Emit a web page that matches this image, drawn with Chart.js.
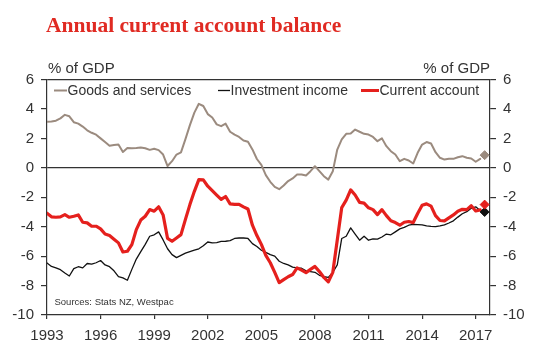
<!DOCTYPE html>
<html>
<head>
<meta charset="utf-8">
<script src="https://cdn.jsdelivr.net/npm/chart.js@4.4.1/dist/chart.umd.min.js"></script>
<style>
  body { margin: 0; background: #fff; }
  canvas { display: block; }
</style>
</head>
<body>
<canvas id="myChart" width="547" height="360"></canvas>
<script>
// quarterly, % of GDP, from 1993 Q1
const startYear = 1993;
const goods = [3.13, 3.15, 3.2, 3.36, 3.6, 3.5, 3.1, 3.0, 2.8, 2.55, 2.38, 2.25, 2.0, 1.75, 1.5, 1.55, 1.58, 1.08, 1.35, 1.33,
  1.35, 1.38, 1.33, 1.22, 1.29, 1.2, 0.9, 0.12, 0.45, 0.9, 1.05, 1.95, 2.9, 3.75, 4.35, 4.2, 3.65, 3.42, 2.95, 2.83,
  3.0, 2.45, 2.25, 2.1, 1.85, 1.77, 1.25, 0.6, 0.2, -0.5, -0.95, -1.3, -1.45, -1.2, -0.9, -0.72, -0.45, -0.45, -0.52, -0.23,
  0.11, -0.23, -0.57, -0.8, -0.23, 1.24, 1.93, 2.31, 2.33, 2.6, 2.45, 2.31, 2.26, 2.1, 1.81, 2.0, 1.47, 1.13, 0.9, 0.45,
  0.61, 0.5, 0.29, 1.02, 1.58, 1.75, 1.65, 1.06, 0.68, 0.56, 0.61, 0.61, 0.72, 0.79, 0.68, 0.63, 0.41, 0.61];
const investment = [-6.46, -6.7, -6.8, -6.92, -7.15, -7.35, -6.85, -6.72, -6.8, -6.5, -6.55, -6.45, -6.3, -6.6, -6.72, -7.0, -7.4, -7.48, -7.64, -6.9,
  -6.2, -5.7, -5.2, -4.65, -4.55, -4.35, -4.9, -5.5, -5.9, -6.1, -5.95, -5.8, -5.7, -5.6, -5.5, -5.3, -5.04, -5.1, -5.08, -5.0,
  -4.99, -4.95, -4.8, -4.77, -4.77, -4.8, -5.15, -5.35, -5.6, -5.75, -5.9, -6.0, -6.35, -6.5, -6.6, -6.75, -6.8, -6.82, -7.0, -7.05,
  -7.1, -7.3, -7.4, -7.44, -7.1, -6.6, -4.8, -4.65, -4.08, -4.5, -4.92, -4.65, -4.92, -4.83, -4.85, -4.7, -4.5, -4.55, -4.35, -4.15,
  -4.05, -3.9, -3.85, -3.86, -3.88, -3.95, -3.98, -4.0, -3.95, -3.88, -3.75, -3.6, -3.35, -3.12, -2.98, -2.75, -2.65, -2.9];
const current = [-3.08, -3.33, -3.36, -3.33, -3.18, -3.36, -3.29, -3.2, -3.7, -3.74, -3.97, -3.97, -4.15, -4.5, -4.6, -4.85, -5.1, -5.72, -5.67, -5.22,
  -4.2, -3.55, -3.29, -2.84, -2.95, -2.65, -3.2, -4.8, -4.99, -4.77, -4.54, -3.5, -2.5, -1.6, -0.8, -0.82, -1.25, -1.55, -1.85, -2.15,
  -1.95, -2.45, -2.48, -2.48, -2.65, -2.8, -3.9, -4.6, -5.2, -5.95, -6.45, -7.1, -7.8, -7.6, -7.4, -7.25, -6.8, -6.95, -7.12, -6.9,
  -6.7, -7.05, -7.45, -7.75, -7.1, -4.9, -2.7, -2.2, -1.5, -1.85, -2.35, -2.4, -2.72, -2.84, -3.18, -2.84, -3.25, -3.6, -3.72, -3.9,
  -3.7, -3.65, -3.72, -3.1, -2.55, -2.45, -2.6, -3.25, -3.58, -3.6, -3.4, -3.2, -2.95, -2.82, -2.84, -2.58, -2.93, -2.86];
// latest estimate markers (2017 Q3)
const latestX = 2017.5;
const goodsLatest = 0.86;
const investmentLatest = -3.0;
const currentLatest = -2.5;

const yearTicks = [1993, 1996, 1999, 2002, 2005, 2008, 2011, 2014, 2017];
const legendNames = ['Goods and services', 'Investment income', 'Current account'];

const grey = '#9b8b7f';
const red = '#e5201d';
const black = '#111111';
const axisColor = '#333333';
const labelFont = 'Liberation Sans, Arial, sans-serif';

function toPoints(arr) {
    return arr.map((v, i) => ({ x: startYear + i / 4, y: v }));
}

// title, unit labels, legend and source note
const textPlugin = {
    id: 'texts',
    afterDraw(chart) {
        const ctx = chart.ctx;
        const area = chart.chartArea;
        ctx.save();
        ctx.textBaseline = 'middle';

        ctx.fillStyle = '#e02a22';
        ctx.font = 'bold 21.5px "Liberation Serif", "Times New Roman", serif';
        ctx.textAlign = 'left';
        ctx.fillText('Annual current account balance', 46, 26);

        ctx.fillStyle = axisColor;
        ctx.font = '15px ' + labelFont;
        ctx.fillText('% of GDP', 48, 69);
        ctx.textAlign = 'right';
        ctx.fillText('% of GDP', area.right, 69);

        // legend inside the plot
        ctx.textAlign = 'left';
        ctx.font = '14px ' + labelFont;
        const items = [
            { name: legendNames[0], color: grey, w: 2, x1: 54, x2: 67 },
            { name: legendNames[1], color: black, w: 1.3, x1: 218, x2: 230 },
            { name: legendNames[2], color: red, w: 3, x1: 361, x2: 379 }
        ];
        items.forEach(it => {
            ctx.strokeStyle = it.color;
            ctx.lineWidth = it.w;
            ctx.beginPath();
            ctx.moveTo(it.x1, 90.5);
            ctx.lineTo(it.x2, 90.5);
            ctx.stroke();
            ctx.fillStyle = axisColor;
            ctx.fillText(it.name, it.x2 + 0.5, 91);
        });

        ctx.font = '9.5px ' + labelFont;
        ctx.fillText('Sources: Stats NZ, Westpac', 54.5, 302);
        ctx.restore();
    }
};

const yGrid = {
    color: c => (c.tick && (c.tick.value === 0 || c.tick.value === 6)) ? axisColor : 'rgba(0,0,0,0)',
    lineWidth: 1.2,
    tickColor: axisColor,
    tickLength: 6
};

let config = {
    type: 'line',
    data: {
        datasets: [
            { label: 'Current account latest', data: [{ x: latestX, y: currentLatest }], showLine: false,
              pointStyle: 'rectRot', pointRadius: 4.5, backgroundColor: red, borderColor: red, order: 0 },
            { label: 'Investment income latest', data: [{ x: latestX, y: investmentLatest }], showLine: false,
              pointStyle: 'rectRot', pointRadius: 4.5, backgroundColor: black, borderColor: black, order: 0 },
            { label: 'Goods and services latest', data: [{ x: latestX, y: goodsLatest }], showLine: false,
              pointStyle: 'rectRot', pointRadius: 4.5, backgroundColor: grey, borderColor: grey, order: 0 },
            { label: legendNames[2], data: toPoints(current), borderColor: red, borderWidth: 3.2, pointRadius: 0, order: 1 },
            { label: legendNames[1], data: toPoints(investment), borderColor: black, borderWidth: 1.3, pointRadius: 0, order: 2 },
            { label: legendNames[0], data: toPoints(goods), borderColor: grey, borderWidth: 2, pointRadius: 0, order: 3 }
        ]
    },
    options: {
        responsive: false,
        animation: false,
        devicePixelRatio: 1,
        layout: { padding: { top: 79.5, left: 0, right: 0, bottom: 0 } },
        elements: { line: { tension: 0, borderJoinStyle: 'round', borderCapStyle: 'round' } },
        plugins: { legend: { display: false }, tooltip: { enabled: false }, title: { display: false } },
        scales: {
            x: {
                type: 'linear',
                min: 1993,
                max: 2017.8,
                afterBuildTicks: s => { s.ticks = yearTicks.map(v => ({ value: v })); },
                afterFit: s => { s.height = 45; },
                grid: { drawOnChartArea: false, tickLength: 4, tickColor: axisColor, lineWidth: 1.2 },
                border: { color: axisColor, width: 1.2 },
                ticks: { callback: v => String(v), color: axisColor, font: { family: labelFont, size: 15 }, padding: 8, maxRotation: 0 }
            },
            y: {
                position: 'left',
                min: -10,
                max: 6,
                afterFit: s => { s.width = 47; },
                grid: yGrid,
                border: { color: axisColor, width: 1.2 },
                ticks: { stepSize: 2, color: axisColor, font: { family: labelFont, size: 15 }, padding: 7 }
            },
            y2: {
                position: 'right',
                min: -10,
                max: 6,
                afterFit: s => { s.width = 57; },
                grid: { drawOnChartArea: false, tickColor: axisColor, tickLength: 6, lineWidth: 1.2 },
                border: { color: axisColor, width: 1.2 },
                ticks: { stepSize: 2, color: axisColor, font: { family: labelFont, size: 15 }, padding: 7 }
            }
        }
    },
    plugins: [textPlugin]
};

let myChart = new Chart(document.getElementById('myChart'), config);
</script>
</body>
</html>
